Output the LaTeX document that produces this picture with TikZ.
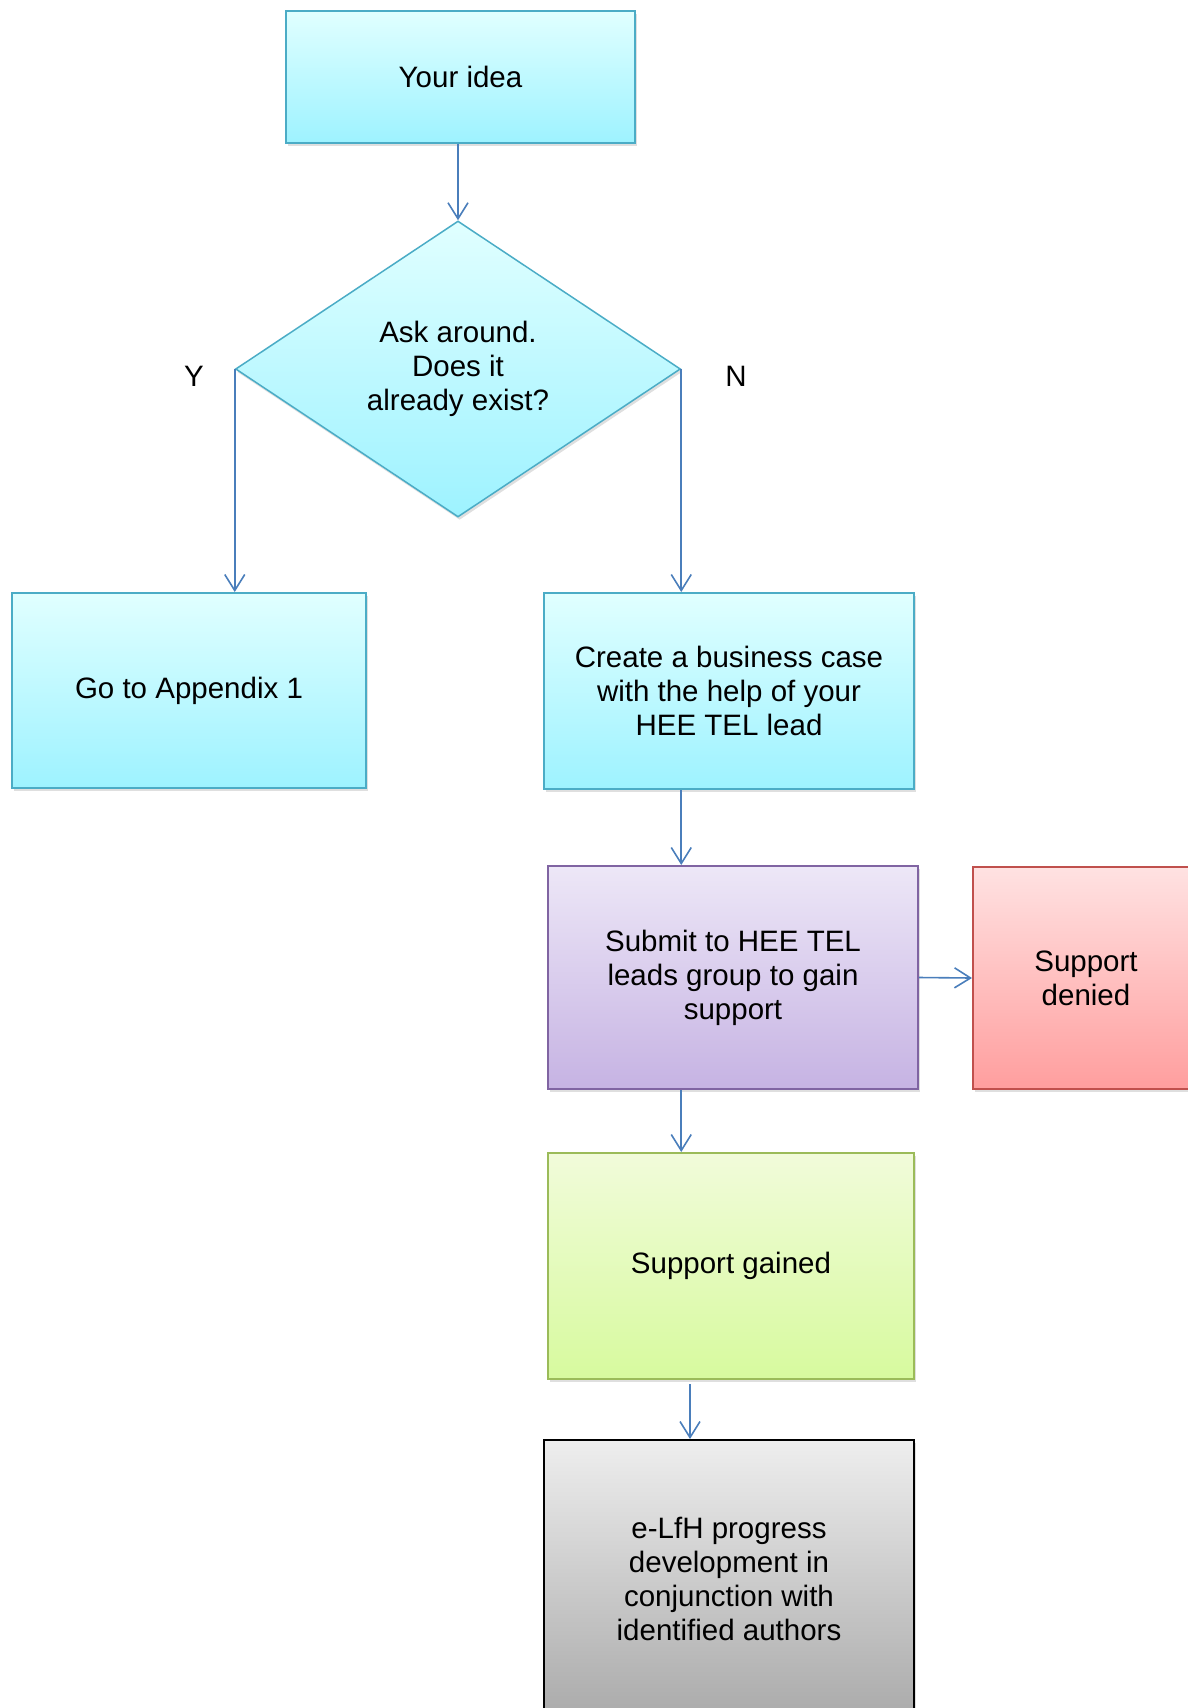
\documentclass[tikz,border=0pt]{standalone}
\usepackage{fontspec}
\setmainfont{Liberation Sans}
\usetikzlibrary{shapes.geometric,arrows.meta,shadows}

\definecolor{flowline}{HTML}{4A7EBB}
\definecolor{cyanedge}{HTML}{4BACC6}
\definecolor{purpleedge}{HTML}{8064A2}
\definecolor{rededge}{HTML}{C0504D}
\definecolor{greenedge}{HTML}{9BBB59}

\begin{document}
\begin{tikzpicture}[x=0.5pt,y=-0.5pt,
	box/.style={rectangle, line width=1pt, align=center, inner sep=0pt,
		font=\fontsize{14.75}{17}\selectfont,
		drop shadow={opacity=0.25, shadow xshift=0.8pt, shadow yshift=-1.5pt}},
	cyanbox/.style={box, draw=cyanedge, top color=cyan!12, bottom color=cyan!35!white!95!blue},
	purplebox/.style={box, draw=purpleedge, top color={rgb,255:red,237;green,231;blue,247}, bottom color={rgb,255:red,198;green,179;blue,227}},
	redbox/.style={box, draw=rededge, top color={rgb,255:red,255;green,226;blue,226}, bottom color={rgb,255:red,255;green,158;blue,158}},
	greenbox/.style={box, draw=greenedge, top color={rgb,255:red,241;green,251;blue,218}, bottom color={rgb,255:red,215;green,250;blue,158}},
	greybox/.style={box, draw=black, top color={rgb,255:red,238;green,238;blue,238}, bottom color={rgb,255:red,170;green,170;blue,170}},
	flow/.style={draw=flowline, line width=0.8pt, -{Straight Barb[length=8pt,width=10pt]}},
	lbl/.style={font=\fontsize{14.75}{17}\selectfont}]

	\useasboundingbox (0,0) rectangle (1188,1708);

	\node[cyanbox, minimum width=174.5pt, minimum height=66pt] (idea) at (460.5,77) {Your idea};
	\node[cyanbox, shape=diamond, line width=0.75pt, minimum width=222.5pt, minimum height=148pt] (dia) at (458,369) {Ask around.\\Does it\\already exist?};

	\node[cyanbox, minimum width=177pt, minimum height=97.5pt] (app) at (189,690.5) {Go to Appendix 1};
	\node[cyanbox, minimum width=185pt, minimum height=98pt] (bus) at (729,691) {Create a business case\\with the help of your\\HEE TEL lead};

	\node[purplebox, minimum width=185pt, minimum height=111.5pt] (sub) at (733,977.5) {Submit to HEE TEL\\leads group to gain\\support};
	\node[redbox, minimum width=113pt, minimum height=111pt] (den) at (1086,978) {Support\\denied};

	\node[greenbox, minimum width=183pt, minimum height=113pt] (gain) at (731,1266) {Support gained};
	\node[greybox, minimum width=185pt, minimum height=139pt] (elfh) at (729,1579) {e-LfH progress\\development in\\conjunction with\\identified authors};

	\node[lbl] (yes) at (194,376) {Y};
	\node[lbl] (no) at (736,376) {N};

	\draw[flow] (dia.north |- idea.south) -- (dia.north);
	\draw[flow] (dia.west) -- (dia.west |- app.north);
	\draw[flow] (dia.east) -- (dia.east |- bus.north);
	\draw[flow] (dia.east |- bus.south) -- (dia.east |- sub.north);
	\draw[flow] (sub.east) -- (den.west);
	\draw[flow] (dia.east |- sub.south) -- (dia.east |- gain.north);
	\coordinate (gx) at (690,1384);
	\draw[flow] (gx) -- (gx |- elfh.north);
\end{tikzpicture}
\end{document}
